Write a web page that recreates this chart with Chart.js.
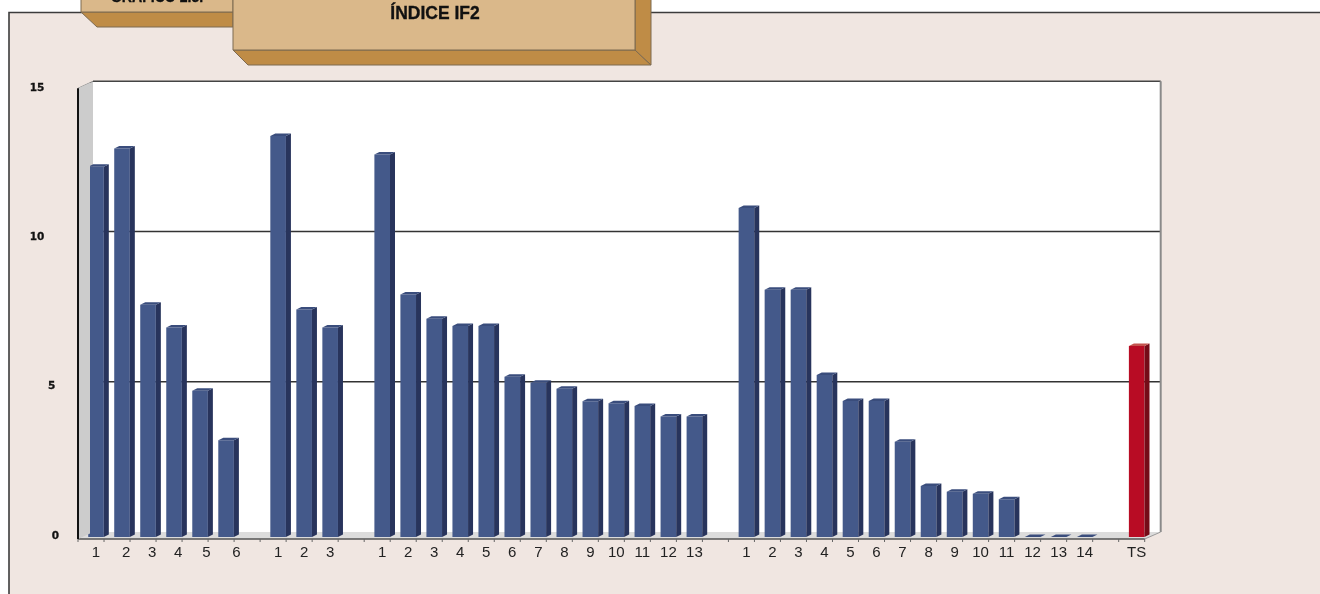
<!DOCTYPE html>
<html>
<head>
<meta charset="utf-8">
<title>Índice IF2</title>
<script src="https://cdn.jsdelivr.net/npm/chart.js@4"></script>
<style>
  html, body { margin: 0; padding: 0; background: #fff; }
  #wrap { position: relative; width: 1320px; height: 594px; overflow: hidden; }
  canvas { display: block; }
</style>
</head>
<body>
<div id="wrap"><canvas id="grafico" width="1320" height="594"></canvas></div>
<script>
var groupLabels = ['1','2','3','4','5','6','','1','2','3','','1','2','3','4','5','6','7','8','9','10','11','12','13','','1','2','3','4','5','6','7','8','9','10','11','12','13','14','','TS'];
var indiceValues = [12.32,12.93,7.73,6.97,4.87,3.22,null,13.35,7.57,6.97,null,12.73,8.07,7.26,7.02,7.02,5.33,5.13,4.93,4.52,4.45,4.36,4.01,4.01,null,10.95,8.23,8.23,5.39,4.53,4.53,3.17,1.7,1.51,1.44,1.26,0,0,0,null,6.36];
var yTicks = [0, 5, 10, 15];
var chartTitle = 'ÍNDICE IF2';
var chartNumber = 'GRÁFICO 2.3.';

var BLUE = { front: '#44598a', side: '#28345c', top: '#3a4d7c' };
var RED = { front: '#b80c24', side: '#750c18', top: '#c4544f' };
var depthX = 15, depthY = 7;
var barDepthX = 5, barDepthY = 2.5;
// the first group's labels drift right of their bars in the original
var labelNudge = { 1: 2, 2: 2, 3: 2, 4: 3, 5: 5 };

function poly(ctx, pts, fill, stroke, lw) {
  ctx.beginPath();
  ctx.moveTo(pts[0][0], pts[0][1]);
  for (var i = 1; i < pts.length; i++) ctx.lineTo(pts[i][0], pts[i][1]);
  ctx.closePath();
  if (fill) { ctx.fillStyle = fill; ctx.fill(); }
  if (stroke) { ctx.strokeStyle = stroke; ctx.lineWidth = lw || 1; ctx.stroke(); }
}

function line(ctx, x1, y1, x2, y2, color, lw) {
  ctx.beginPath();
  ctx.moveTo(x1, y1);
  ctx.lineTo(x2, y2);
  ctx.strokeStyle = color;
  ctx.lineWidth = lw;
  ctx.stroke();
}

function squeezedText(ctx, text, x, y, size, squeeze) {
  ctx.save();
  ctx.translate(x, y);
  ctx.scale(squeeze, 1);
  ctx.font = 'bold ' + size + 'px "Liberation Sans"';
  ctx.fillStyle = '#111';
  ctx.strokeStyle = '#111';
  ctx.lineWidth = 0.35;
  ctx.textAlign = 'center';
  ctx.textBaseline = 'alphabetic';
  ctx.fillText(text, 0, 0);
  ctx.strokeText(text, 0, 0);
  ctx.restore();
}

// panel and the two tan header tabs behind everything
var backdrop = {
  id: 'backdrop',
  beforeDraw: function(chart) {
    var ctx = chart.ctx;
    poly(ctx, [[9, 12.5], [1321, 12.5], [1321, 595], [9, 595]], '#f0e6e1', '#3c3c3c', 1.6);

    poly(ctx, [[81, 12], [233, 12], [233, 27], [97, 27]], '#bf8c46', '#7d6a50', 1);
    poly(ctx, [[81, -2], [233, -2], [233, 12], [81, 12]], '#dab88a', '#7d6a50', 1);
    poly(ctx, [[233, 50], [635, 50], [651, 65], [248, 65]], '#bf8c46', '#7d6a50', 1);
    poly(ctx, [[635, -2], [651, -2], [651, 65], [635, 50]], '#bf8c46', '#7d6a50', 1);
    poly(ctx, [[233, -2], [635, -2], [635, 50], [233, 50]], '#dab88a', '#7d6a50', 1);

    squeezedText(ctx, chartTitle, 435, 18.5, 19, 0.92);
    squeezedText(ctx, chartNumber, 157, 2, 16, 0.88);
  }
};

// fake 3d box: walls, floor and gridlines behind the bars, depth faces on them
var box3d = {
  id: 'box3d',
  beforeDatasetsDraw: function(chart) {
    var ctx = chart.ctx, area = chart.chartArea, y = chart.scales.y;
    var left = area.left - 5, right = area.right - 5;
    var base = y.getPixelForValue(0) + 2;
    var top = y.getPixelForValue(15) + 2;
    var backL = left + depthX, backR = right + depthX + 1;

    poly(ctx, [[backL, top - depthY], [backR, top - depthY], [backR, base - depthY], [backL, base - depthY]], '#ffffff');
    poly(ctx, [[left, top], [backL, top - depthY], [backL, base - depthY], [left, base]], '#cccccc');
    poly(ctx, [[left, base], [backL, base - depthY], [backR, base - depthY], [right, base]], '#dcdcdc');

    yTicks.forEach(function(v) {
      if (v === 0 || v === 15) return;
      var py = y.getPixelForValue(v) + 2;
      line(ctx, left, py, backL, py - depthY, '#222', 1.2);
      line(ctx, backL, py - depthY, backR, py - depthY, '#333', 1.6);
    });

    line(ctx, left, top, backL, top - depthY, '#888', 1);
    line(ctx, backL, top - depthY, backR, top - depthY, '#444', 1.4);
    line(ctx, backR, top - depthY, backR, base - depthY, '#8a8a8a', 2);
    line(ctx, right, base, backR, base - depthY, '#9a9a9a', 1);
    line(ctx, left, base, right, base, '#555', 1.5);
    line(ctx, left, top, left, base, '#111', 2);

    var step = (area.right - area.left) / groupLabels.length;
    for (var i = 0; i <= groupLabels.length; i++) {
      var tx = left + step * i;
      line(ctx, tx, base, tx, base + 3, '#666', 1);
    }
  },
  afterDatasetsDraw: function(chart) {
    var ctx = chart.ctx, meta = chart.getDatasetMeta(0), y = chart.scales.y;
    meta.data.forEach(function(bar, i) {
      if (indiceValues[i] === null) return;
      var c = groupLabels[i] === 'TS' ? RED : BLUE;
      var l = bar.x - bar.width / 2, r = bar.x + bar.width / 2;
      var t = bar.y, b = y.getPixelForValue(0);
      poly(ctx, [[r, t], [r + barDepthX, t - barDepthY], [r + barDepthX, b - barDepthY], [r, b]], c.side);
      poly(ctx, [[l, t], [l + barDepthX, t - barDepthY], [r + barDepthX, t - barDepthY], [r, t]], c.top);
    });

    // wall hides the left sliver of the first bar
    var left = chart.chartArea.left - 5;
    var wallTop = y.getPixelForValue(15) + 2, wallBase = y.getPixelForValue(0) + 2;
    ctx.save();
    ctx.beginPath();
    ctx.rect(left + 1, 0, 11, 594);
    ctx.clip();
    poly(ctx, [[left, wallTop], [left + depthX, wallTop - depthY], [left + depthX, wallBase - depthY], [left, wallBase]], '#cccccc');
    ctx.restore();
  }
};

new Chart(document.getElementById('grafico').getContext('2d'), {
  type: 'bar',
  data: {
    labels: groupLabels,
    datasets: [{
      data: indiceValues,
      yAxisID: 'y',
      backgroundColor: groupLabels.map(function(l) { return l === 'TS' ? RED.front : BLUE.front; }),
      barPercentage: 0.6,
      categoryPercentage: 1
    }]
  },
  options: {
    responsive: false,
    animation: false,
    layout: { padding: { left: 0, top: 86.3, right: 170.3, bottom: 0 } },
    plugins: { legend: { display: false }, title: { display: false }, tooltip: { enabled: false } },
    scales: {
      x: {
        grid: { display: false, drawTicks: false },
        border: { display: false },
        afterFit: function(scale) { scale.height = 57; },
        ticks: {
          autoSkip: false, maxRotation: 0, minRotation: 0, padding: 7,
          color: '#222',
          font: { family: '"Liberation Sans"', size: 15 },
          callback: function(v, i) {
            return '\u00a0'.repeat(labelNudge[i] || 0) + groupLabels[i];
          }
        }
      },
      y: { display: false, min: 0, max: 15 },
      // labels sit on the front edge of the box, a touch tighter than the bars
      yFront: {
        position: 'left',
        min: -0.033, max: 15.057,
        grid: { display: false, drawTicks: false },
        border: { display: false },
        afterFit: function(scale) { scale.width = 83; },
        afterBuildTicks: function(scale) {
          scale.ticks = yTicks.map(function(v) { return { value: v }; });
        },
        ticks: {
          padding: 24,
          color: '#111',
          textStrokeColor: '#111',
          textStrokeWidth: 0.3,
          font: { family: '"DejaVu Sans"', size: 10.5, weight: 'bold' },
          callback: function(v) { return v >= 10 ? v + '\u00a0\u00a0\u00a0\u00a0' : v === 5 ? v + '\u00a0' : '' + v; }
        }
      }
    }
  },
  plugins: [backdrop, box3d]
});
</script>
</body>
</html>
